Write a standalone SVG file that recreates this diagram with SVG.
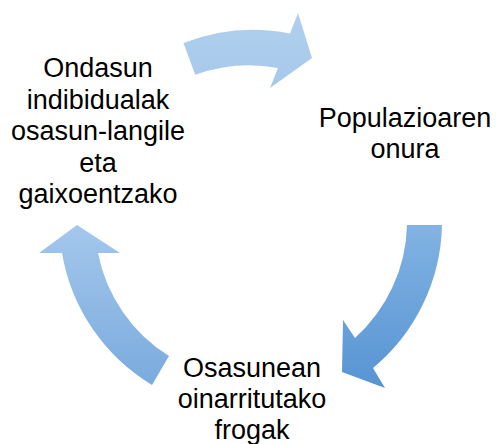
<svg xmlns="http://www.w3.org/2000/svg" width="496" height="444" viewBox="0 0 496 444">
  <defs>
    <linearGradient id="gTop" x1="0" y1="0" x2="0" y2="1">
      <stop offset="0" stop-color="#b1d0ee"/>
      <stop offset="1" stop-color="#a6c8ea"/>
    </linearGradient>
    <linearGradient id="gRight" x1="0" y1="0" x2="0" y2="1">
      <stop offset="0" stop-color="#82b3e3"/>
      <stop offset="1" stop-color="#5794d3"/>
    </linearGradient>
    <linearGradient id="gLeft" x1="0" y1="0" x2="0" y2="1">
      <stop offset="0" stop-color="#a4c7ec"/>
      <stop offset="1" stop-color="#7aabdd"/>
    </linearGradient>
  </defs>
  <style>
    .lbl { font-family: "Liberation Sans", Arial, sans-serif; font-size: 27px; fill: #000; text-anchor: middle; }
  </style>

  <!-- curved cycle arrows around centre (250,222) -->
  <g id="connectors">
    <path id="arrow-top" fill="url(#gTop)"
          d="M183.4,43 A191,191 0 0 1 290,33.5 L298,13 L312,58 L270,88 L278,68 A157,157 0 0 0 195.3,74.8 Z"/>
    <path id="arrow-right" fill="url(#gRight)"
          d="M442,225 A191,191 0 0 1 373,368 L385,388 L342,372 L343,320 L355,338 A157,157 0 0 0 407,225 Z"/>
    <path id="arrow-left" fill="url(#gLeft)"
          d="M152,385 A191,191 0 0 1 62,253 L39,253 L77,225 L120,253 L98,253 A157,157 0 0 0 169,356 Z"/>
  </g>

  <g id="node-ondasun">
    <text class="lbl" x="98" y="77">Ondasun</text>
    <text class="lbl" x="98" y="108.5">indibidualak</text>
    <text class="lbl" x="98" y="140">osasun-langile</text>
    <text class="lbl" x="98" y="171.5">eta</text>
    <text class="lbl" x="98" y="203">gaixoentzako</text>
  </g>

  <g id="node-populazioa">
    <text class="lbl" x="405" y="127">Populazioaren</text>
    <text class="lbl" x="405" y="158">onura</text>
  </g>

  <g id="node-frogak">
    <text class="lbl" x="252" y="377">Osasunean</text>
    <text class="lbl" x="252" y="408">oinarritutako</text>
    <text class="lbl" x="252" y="439">frogak</text>
  </g>
</svg>
